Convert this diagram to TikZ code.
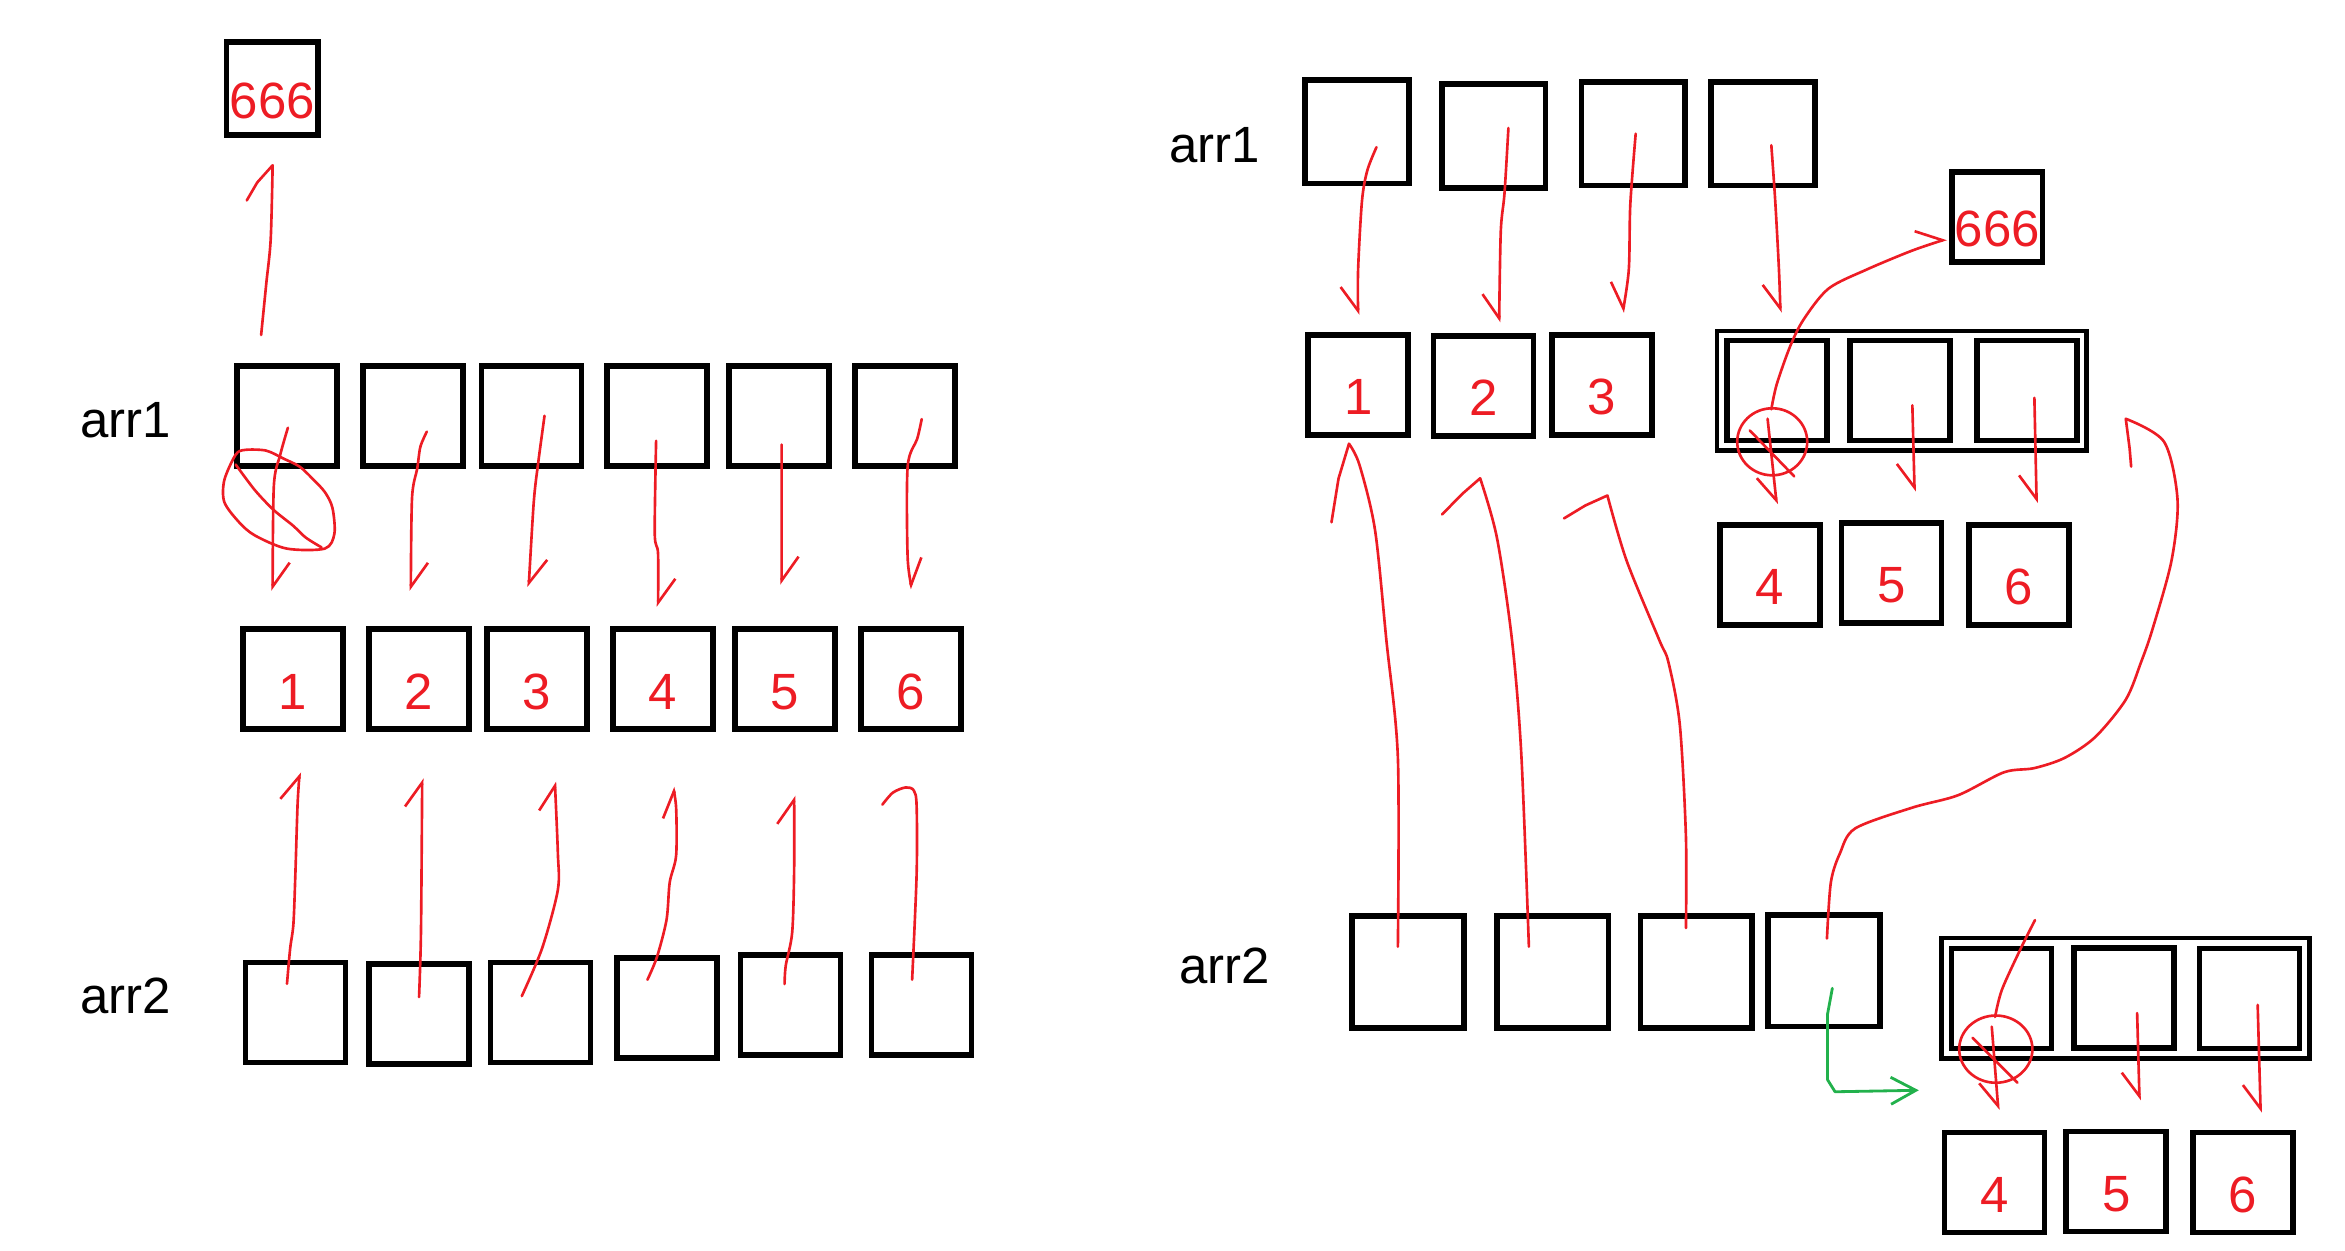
\documentclass[tikz,border=0pt]{standalone}
\usepackage{fontspec}
\setmainfont{Liberation Sans}
\usepackage{tikz}
\usetikzlibrary{arrows.meta,calc,fit}
\definecolor{PenRed}{HTML}{ED1C24}
\definecolor{PenGreen}{HTML}{22B14C}
\tikzset{
    every node/.style={font=\fontsize{14.5}{17}\selectfont},
    cellbox/.style={
        draw=black, line width=1.6pt,
        minimum width=1cm, minimum height=1cm,
        inner sep=0pt, text=PenRed,
        text height=17pt, text depth=0pt
    },
    framebox/.style={draw=black, line width=1.3pt, inner sep=0.07cm},
    namelabel/.style={text=black},
    penline/.style={draw=PenRed, line width=0.75pt, line cap=round, line join=round},
    ptr/.style={penline, -{Straight Barb[harpoon, length=0.24cm, width=0.34cm]}},
    ptrswap/.style={penline, -{Straight Barb[harpoon, swap, length=0.24cm, width=0.34cm]}},
    moveptr/.style={draw=PenGreen, line width=0.8pt, line cap=round, line join=round,
        -{Straight Barb[length=0.25cm, width=0.27cm]}},
}

\begin{document}
\begin{tikzpicture}[x=0.014955cm, y=-0.014955cm]
    \useasboundingbox (0,0) rectangle (1568,836);

    % ================= left: arr2 = arr1 copy =================
    \node[namelabel] (larr1) at (84,281) {arr1};
    \node[namelabel] (larr2) at (84,666) {arr2};

    % new value
    \node[cellbox, minimum width=0.91cm, minimum height=0.925cm] (lsix) at (182,59.2) {666};

    % arr1 cells
    \node[cellbox] (la1) at (192.1,278.3) {};
    \node[cellbox] (la2) at (276.2,278.3) {};
    \node[cellbox] (la3) at (355.5,278.3) {};
    \node[cellbox] (la4) at (439.1,278.3) {};
    \node[cellbox] (la5) at (520.7,278.3) {};
    \node[cellbox] (la6) at (605,278.3) {};

    % values
    \node[cellbox] (lv1) at (196,454.1) {1};
    \node[cellbox] (lv2) at (280.2,454.1) {2};
    \node[cellbox] (lv3) at (358.9,454.1) {3};
    \node[cellbox] (lv4) at (443.3,454.1) {4};
    \node[cellbox] (lv5) at (524.8,454.1) {5};
    \node[cellbox] (lv6) at (609.2,454.1) {6};

    % arr2 cells
    \node[cellbox] (lb1) at (197.6,677) {};
    \node[cellbox] (lb2) at (280.2,678.2) {};
    \node[cellbox] (lb3) at (361.4,677) {};
    \node[cellbox] (lb4) at (445.8,674) {};
    \node[cellbox] (lb5) at (528.6,672) {};
    \node[cellbox] (lb6) at (616.2,672) {};

    % arr1 -> values
    \draw[ptr] plot[smooth] coordinates {($(la1.center)+(0.4,7.7)$) (187.4,304) (183.1,325) ($(lv1.center)+(-13.7,-59.1)$)};
    \draw[ptr] plot[smooth] coordinates {($(la2.center)+(9.2,10.3)$) (281.1,298.7) (279,313.2) (275.5,333) ($(lv2.center)+(-5.5,-59)$)};
    \draw[ptr] plot[smooth] coordinates {($(la3.center)+(8.6,-0.3)$) (359.9,309.2) (356.9,335.7) ($(lv3.center)+(-5.4,-61.6)$)};
    \draw[ptr] plot[smooth] coordinates {($(la4.center)+(-0.4,16.4)$) (437.8,356.8) (440,370) ($(lv4.center)+(-3.3,-48.4)$)};
    \draw[ptr] ($(la5.center)+(1.9,19)$) -- ($(lv5.center)+(-2.2,-63.1)$);
    \draw[ptr] plot[smooth] coordinates {($(la6.center)+(11.3,1.9)$) (613.3,293.4) (606.9,312) (606.9,372.7) ($(lv6.center)+(0.7,-60.3)$)};

    % arr2 -> values
    \draw[ptr] plot[smooth] coordinates {($(lb1.center)+(-5.7,-19.2)$) (194,634.3) (196.2,617.7) (197.5,584.4) (199,537.3) ($(lv1.center)+(4.4,62.3)$)};
    \draw[ptr] plot[smooth] coordinates {($(lb2.center)+(0,-11.5)$) (281.5,622.1) ($(lv2.center)+(2.1,66.4)$)};
    \draw[ptr] plot[smooth] coordinates {($(lb3.center)+(-12.5,-11)$) (362.5,634) (373,595) (373,570) ($(lv3.center)+(12.1,68.5)$)};
    \draw[ptr] plot[smooth] coordinates {($(lb4.center)+(-12.9,-18.9)$) (439.3,639.8) (445.7,614.9) (447.8,590) (452.1,572) (452.1,540.2) ($(lv4.center)+(6.7,72.2)$)};
    \draw[ptr] plot[smooth] coordinates {($(lb5.center)+(-4,-14)$) (525.4,645.6) (529.7,623.4) (531,581.9) ($(lv5.center)+(6.2,77.9)$)};
    \draw[penline] plot[smooth] coordinates {($(lb6.center)+(-6.3,-16.9)$) (612.9,584.6) (612.9,538.9) (611,528.5) ($(lv6.center)+(-3.6,72.4)$) (597,530) (590,538)};

    % arr1[0] -> 666, old pointer crossed out
    \draw[penline] plot[smooth] coordinates {($(la1.center)+(-17.5,-54.3)$) (178,190) (181,160) ($(lsix.center)+(0.3,51.3)$)} -- (172,122) -- (165,134);
    \draw[penline] plot[smooth cycle] coordinates {(178,301.3) (164,300.8) (157.6,304) (150,321) (150,335.7) (159.7,349) (170.4,358) (191.7,366.8) (217.2,366.8) (223.6,356.8) (222.3,339.6) (217.2,329) (208.7,319.8) (200.2,311.9) (189.5,306.6)};
    \draw[penline] plot[smooth] coordinates {(157.6,310.6) (170.4,327.7) (183,341) (196,351.5) (204.4,359.4) (215,366)};

    % ================= right: arr2 = arr1 (shared) =================
    \node[namelabel] (rarr1) at (812,97) {arr1};
    \node[namelabel] (rarr2) at (818.7,646) {arr2};

    % arr1 cells
    \node[cellbox, minimum size=1.035cm] (ra1) at (907.4,88.2) {};
    \node[cellbox, minimum size=1.035cm] (ra2) at (998.8,90.9) {};
    \node[cellbox, minimum size=1.035cm] (ra3) at (1092.1,89.4) {};
    \node[cellbox, minimum size=1.035cm] (ra4) at (1178.8,89.4) {};

    % new value
    \node[cellbox, minimum size=0.9cm] (rsix) at (1335.5,145) {666};

    % values
    \node[cellbox] (rv1) at (908.2,257.4) {1};
    \node[cellbox] (rv2) at (992,258.1) {2};
    \node[cellbox] (rv3) at (1071,257.4) {3};

    % inner array
    \node[cellbox] (rg1) at (1188.2,261.2) {};
    \node[cellbox] (rg2) at (1270.6,261.2) {};
    \node[cellbox] (rg3) at (1355.2,261.2) {};
    \node[framebox, fit=(rg1)(rg2)(rg3)] (rgf) {};

    \node[cellbox] (rw4) at (1183.6,384.3) {4};
    \node[cellbox] (rw5) at (1264.7,383) {5};
    \node[cellbox] (rw6) at (1349.8,384.3) {6};

    % arr2 cells
    \node[cellbox, minimum size=1.117cm] (rb1) at (941.5,649.9) {};
    \node[cellbox, minimum size=1.117cm] (rb2) at (1038.2,649.9) {};
    \node[cellbox, minimum size=1.117cm] (rb3) at (1134.2,649.9) {};
    \node[cellbox, minimum size=1.117cm] (rb4) at (1219.6,649) {};

    % inner array seen through arr2
    \node[cellbox] (rh1) at (1338.3,667.7) {};
    \node[cellbox] (rh2) at (1420.2,667.1) {};
    \node[cellbox] (rh3) at (1504.2,667.7) {};
    \node[framebox, fit=(rh1)(rh2)(rh3)] (rhf) {};

    \node[cellbox] (rx4) at (1333.5,790.7) {4};
    \node[cellbox] (rx5) at (1415,790) {5};
    \node[cellbox] (rx6) at (1499.7,790.7) {6};

    % arr1 -> values
    \draw[ptrswap] plot[smooth] coordinates {($(ra1.center)+(13,10.2)$) (914.3,113.8) (910.7,134.2) (908.1,180.3) ($(rv1.center)+(-0.1,-46.9)$)};
    \draw[ptrswap] plot[smooth] coordinates {($(ra2.center)+(9.8,-5.3)$) (1006,129.1) (1003.5,154.7) ($(rv2.center)+(10.4,-42.5)$)};
    \draw[ptrswap] plot[smooth] coordinates {($(ra3.center)+(1.6,0)$) (1090.1,136.8) (1089.1,180.3) ($(rv3.center)+(14,-48.4)$)};
    \draw[ptrswap] plot[smooth] coordinates {($(ra4.center)+(5.6,7.7)$) (1187,134.2) (1189.5,180.3) ($(rg1.center)+(2.3,-52.2)$)};

    % inner array -> values
    \draw[ptrswap] ($(rg1.center)+(-6.3,18.8)$) -- ($(rw4.center)+(4.4,-47.1)$);
    \draw[ptrswap] ($(rg2.center)+(8.1,9.8)$) -- ($(rw5.center)+(15.5,-54.3)$);
    \draw[ptrswap] ($(rg3.center)+(5.1,4.8)$) -- ($(rw6.center)+(12,-47.9)$);

    % inner[0] -> 666, old pointer crossed out
    \draw[ptr] plot[smooth] coordinates {($(rg1.center)+(-3.8,12.5)$) (1188,257) (1197,231.5) (1206,213.6) (1222.6,193) (1248,180.3) (1278.7,167.5) ($(rsix.center)+(-33.9,14.8)$)};
    \draw[penline] (1185,295.4) ellipse [x radius=0.35cm, y radius=0.335cm];
    \draw[penline] (1170,287.8) -- (1199.7,318.5);

    % arr2 -> values
    \draw[penline] plot[smooth] coordinates {($(rb1.center)+(-6.8,-16.9)$) (934.7,506.7) (927,428) (919.4,354.3) (909,310.8) ($(rv1.center)+(-6.2,39.3)$)} -- (895,320) -- (890.3,349.2);
    \draw[penline] plot[smooth] coordinates {($(rb2.center)+(-15.9,-16.9)$) (1017.2,503.9) (1011,428) (1000.9,359.4) ($(rv2.center)+(-2.3,61.7)$)} -- (978,330) -- (964.2,344);
    \draw[penline] plot[smooth] coordinates {($(rb3.center)+(-6.9,-29.4)$) (1127.3,559.4) (1123.2,484.5) (1115.6,442.8) (1109.5,428) (1087.6,374.8) ($(rv3.center)+(3.8,73.9)$)} -- (1060,338) -- (1045.8,346.6);
    \draw[penline] plot[smooth] coordinates {($(rb4.center)+(2,-21.5)$) (1224.2,590) (1230.3,570.5) (1240.5,553.9) (1278.7,540) (1309.3,531.7) (1339.9,516.4) (1360.2,513.6) (1380.6,506.7) (1401,492.8) (1421.4,467.8) (1431.6,442.8) (1439.3,420.6) (1452,374.8) (1456,334) (1447,295.4) ($(rg3.center)+(66.2,18.8)$)} -- (1424,300) -- (1425,312);

    % arr2[3] -> inner array (same one)
    \coordinate (mvend) at (1283,729);
    \draw[moveptr] ($(rb4.center)+(5.6,11.8)$) -- (1222,678) -- (1222,722) -- (1227,730) -- (mvend);

    % inner array seen through arr2 -> values
    \draw[penline] plot[smooth] coordinates {($(rh1.center)+(22.4,-52.5)$) (1350.7,635.2) (1338.5,662) ($(rh1.center)+(-4.3,12.3)$)};
    \draw[ptrswap] ($(rh1.center)+(-6.5,18.8)$) -- ($(rx4.center)+(2.7,-48.5)$);
    \draw[ptrswap] ($(rh2.center)+(8.8,10.3)$) -- ($(rx5.center)+(15.6,-54.3)$);
    \draw[ptrswap] ($(rh3.center)+(5.4,4.2)$) -- ($(rx6.center)+(11.9,-46.7)$);
    \draw[penline] (1334.5,701.5) ellipse [x radius=0.366cm, y radius=0.336cm];
    \draw[penline] (1319,694) -- (1349,724);
\end{tikzpicture}
\end{document}
